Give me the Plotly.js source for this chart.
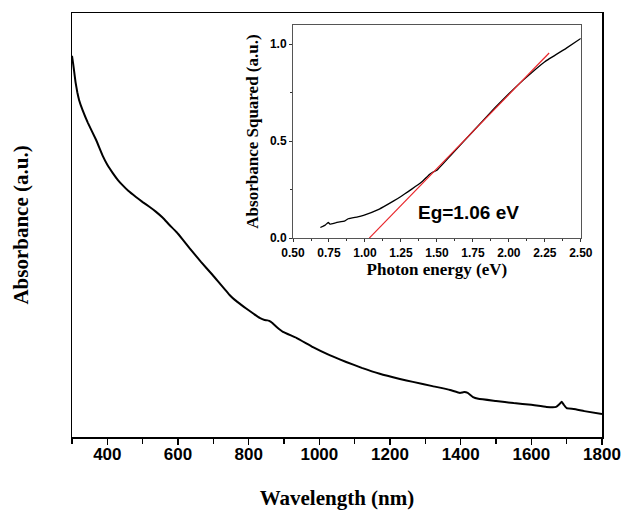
<!DOCTYPE html>
<html>
<head>
<meta charset="utf-8">
<script src="https://cdn.plot.ly/plotly-3.0.1.min.js"></script>
<style>html,body{margin:0;padding:0;background:#fff}#chart{width:626px;height:515px}</style>
</head>
<body>
<div id="chart"></div>
<script>
// Main spectrum: wavelength (nm) vs absorbance (a.u., arbitrary scale)
const wavelength = [300,303,306,310,315,320,330,345,368,387,400,415,430,443,460,481,500,519,538,557,576,595,614,632,665,698,746,760,780,793,815,831,845,854,862,868,880,897,935,982,1029,1076,1120,1171,1228,1265,1320,1370,1398,1410,1420,1435,1450,1500,1550,1600,1643,1670,1680,1686,1692,1700,1720,1750,1800];
const absorbance = [0.899,0.882,0.863,0.837,0.813,0.795,0.771,0.741,0.701,0.663,0.642,0.623,0.606,0.594,0.580,0.566,0.554,0.543,0.531,0.517,0.500,0.484,0.465,0.446,0.413,0.382,0.335,0.324,0.311,0.303,0.290,0.281,0.276,0.275,0.272,0.268,0.259,0.248,0.234,0.212,0.193,0.177,0.163,0.149,0.137,0.130,0.120,0.111,0.104,0.106,0.104,0.094,0.090,0.085,0.080,0.076,0.071,0.071,0.078,0.083,0.076,0.068,0.066,0.061,0.054];

// Inset: Tauc plot, photon energy (eV) vs absorbance squared
const photonEnergy = [0.69,0.71,0.725,0.745,0.757,0.80,0.861,0.884,0.95,0.99,1.10,1.20,1.25,1.30,1.35,1.40,1.43,1.45,1.47,1.50,1.60,1.75,1.90,2.00,2.10,2.25,2.40,2.50];
const absSquared = [0.055,0.062,0.068,0.081,0.072,0.080,0.089,0.100,0.110,0.118,0.150,0.192,0.215,0.240,0.266,0.294,0.315,0.330,0.340,0.350,0.430,0.550,0.670,0.745,0.815,0.910,0.980,1.030];

// Linear fit (red) for band gap extrapolation
const fitEnergy = [1.03, 2.28];
const fitValue = [0.0, 0.955];
const gapLabel = 'Eg=1.06 eV';

const traces = [
  {x: wavelength, y: absorbance, type:'scatter', mode:'lines', line:{color:'#000', width:2, shape:'spline', smoothing:0.3}, xaxis:'x', yaxis:'y', hoverinfo:'skip'},
  {x: photonEnergy, y: absSquared, type:'scatter', mode:'lines', line:{color:'#000', width:1.3, shape:'spline', smoothing:0.3}, xaxis:'x2', yaxis:'y2', hoverinfo:'skip'},
  {x: fitEnergy, y: fitValue, type:'scatter', mode:'lines', line:{color:'#e8262b', width:1.2}, xaxis:'x2', yaxis:'y2', hoverinfo:'skip'}
];

const serif = 'Liberation Serif, Times New Roman, serif';
const sans = 'Liberation Sans, Arial, sans-serif';

const layout = {
  width:626, height:515,
  margin:{l:72, r:24, t:13, b:78},
  showlegend:false,
  paper_bgcolor:'#fff', plot_bgcolor:'#fff',
  xaxis:{
    domain:[0,1], range:[300,1800], tick0:400, dtick:200,
    ticks:'outside', ticklen:6, tickwidth:1.5, tickcolor:'#000',
    minor:{dtick:100, tick0:300, ticks:'outside', ticklen:5, tickwidth:1.5, tickcolor:'#000'},
    showline:true, mirror:true, linecolor:'#000', linewidth:1.5,
    showgrid:false, zeroline:false,
    ticklabelstandoff:-5,
    tickfont:{family:sans, size:17, color:'#000', weight:'bold'},
    title:{text:'Wavelength (nm)', font:{family:serif, size:21, color:'#000', weight:'bold'}, standoff:27}
  },
  yaxis:{
    domain:[0,1], range:[0,1],
    showticklabels:false, ticks:'',
    showline:true, mirror:true, linecolor:'#000', linewidth:1.5,
    showgrid:false, zeroline:false,
    title:{text:'Absorbance (a.u.)', font:{family:serif, size:21, color:'#000', weight:'bold'}, standoff:36}
  },
  xaxis2:{
    domain:[0.417,0.960], anchor:'y2', range:[0.5,2.5], dtick:0.25, tick0:0.5,
    tickformat:'.2f',
    ticks:'outside', ticklen:3, tickwidth:1, tickcolor:'#333',
    minor:{dtick:0.125, ticks:'outside', ticklen:2, tickwidth:1, tickcolor:'#333'},
    showline:true, mirror:true, linecolor:'#555', linewidth:1,
    showgrid:false, zeroline:false,
    tickfont:{family:sans, size:12, color:'#000', weight:'bold'},
    title:{text:'Photon energy (eV)', font:{family:serif, size:17, color:'#000', weight:'bold'}, standoff:3}
  },
  yaxis2:{
    domain:[0.469,0.972], anchor:'x2', range:[0,1.1], dtick:0.5, tick0:0,
    tickformat:'.1f',
    ticks:'outside', ticklen:3, tickwidth:1, tickcolor:'#333',
    minor:{dtick:0.25, ticks:'outside', ticklen:2, tickwidth:1, tickcolor:'#333'},
    showline:true, mirror:true, linecolor:'#555', linewidth:1,
    showgrid:false, zeroline:false,
    tickfont:{family:sans, size:12, color:'#000', weight:'bold'},
    title:{text:'Absorbance Squared (a.u.)', font:{family:serif, size:17, color:'#000', weight:'bold'}, standoff:6}
  },
  annotations:[
    {xref:'x2', yref:'y2', x:1.72, y:0.13, text:gapLabel, showarrow:false,
     font:{family:sans, size:19, color:'#000', weight:'bold'}}
  ]
};

Plotly.newPlot('chart', traces, layout, {staticPlot:true, displayModeBar:false});
</script>
</body>
</html>
